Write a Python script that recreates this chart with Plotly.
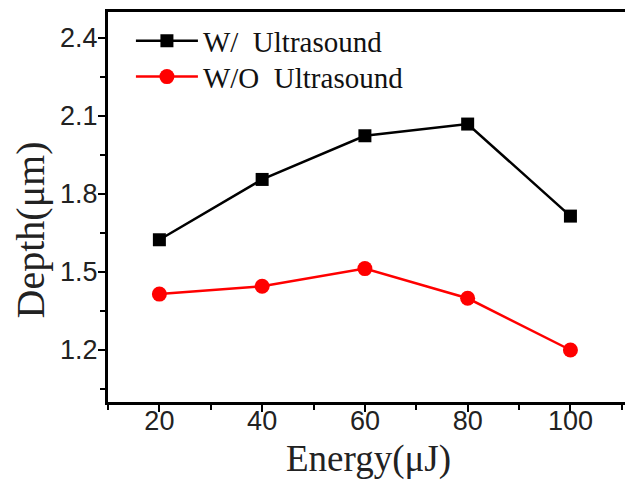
import plotly.graph_objects as go

energy = [20, 40, 60, 80, 100]
depth_with = [1.624, 1.856, 2.024, 2.069, 1.715]
depth_without = [1.415, 1.445, 1.513, 1.399, 1.200]
name_with = "W/  Ultrasound"
name_without = "W/O  Ultrasound"
x_title = "Energy(μJ)"
y_title = "Depth(μm)"

fig = go.Figure()
fig.add_trace(go.Scatter(x=energy, y=depth_with, mode="lines+markers", name=name_with,
                         legend="legend",
                         line=dict(color="black", width=2.5),
                         marker=dict(symbol="square", size=13, color="black")))
fig.add_trace(go.Scatter(x=energy, y=depth_without, mode="lines+markers", name=name_without,
                         legend="legend2",
                         line=dict(color="#ff0000", width=2.5),
                         marker=dict(symbol="circle", size=15, color="#ff0000")))

tickfont = dict(family="Liberation Sans, Arial", size=27, color="#222")
titlefont = dict(family="Liberation Serif, Times New Roman", size=37, color="#222")
ytitlefont = dict(family="Liberation Serif, Times New Roman", size=40, color="#222")
legfont = dict(family="Liberation Serif, Times New Roman", size=29, color="#111")

leg_common = dict(xanchor="left", yanchor="middle", font=legfont, itemwidth=62,
                  bgcolor="rgba(0,0,0,0)")

# page has an 8px body margin; figure is sized/margined to compensate
fig.update_layout(
    width=625, height=475,
    margin=dict(l=100, r=1, t=3, b=81),
    paper_bgcolor="white", plot_bgcolor="white",
    showlegend=True,
    legend=dict(x=0.044, y=0.926, **leg_common),
    legend2=dict(x=0.044, y=0.834, **leg_common),
    xaxis=dict(range=[10, 111.4], tick0=0, dtick=20, ticks="outside", ticklen=7, tickwidth=2,
               tickcolor="black", showline=True, linewidth=3, linecolor="black", mirror=True,
               showgrid=False, zeroline=False, tickfont=tickfont, ticklabelstandoff=-14,
               minor=dict(ticks="outside", dtick=10, tick0=0, ticklen=5, tickwidth=2, tickcolor="black")),
    yaxis=dict(range=[1.0, 2.5], tick0=1.2, dtick=0.3, tickformat=".1f", ticks="outside", ticklen=7,
               tickwidth=2, tickcolor="black", showline=True, linewidth=3, linecolor="black",
               mirror=True, showgrid=False, zeroline=False, tickfont=tickfont, ticklabelstandoff=-5,
               minor=dict(ticks="outside", dtick=0.15, tick0=1.05, ticklen=5, tickwidth=2, tickcolor="black")),
    annotations=[
        dict(text=x_title, xref="paper", yref="paper", x=0.5, y=0, xanchor="center", yanchor="middle",
             yshift=-57, showarrow=False, font=titlefont),
        dict(text=y_title, xref="paper", yref="paper", x=0, y=0.44, xanchor="center", yanchor="middle",
             xshift=-78, textangle=-90, showarrow=False, font=ytitlefont),
    ],
)

fig.write_html("out.html")
